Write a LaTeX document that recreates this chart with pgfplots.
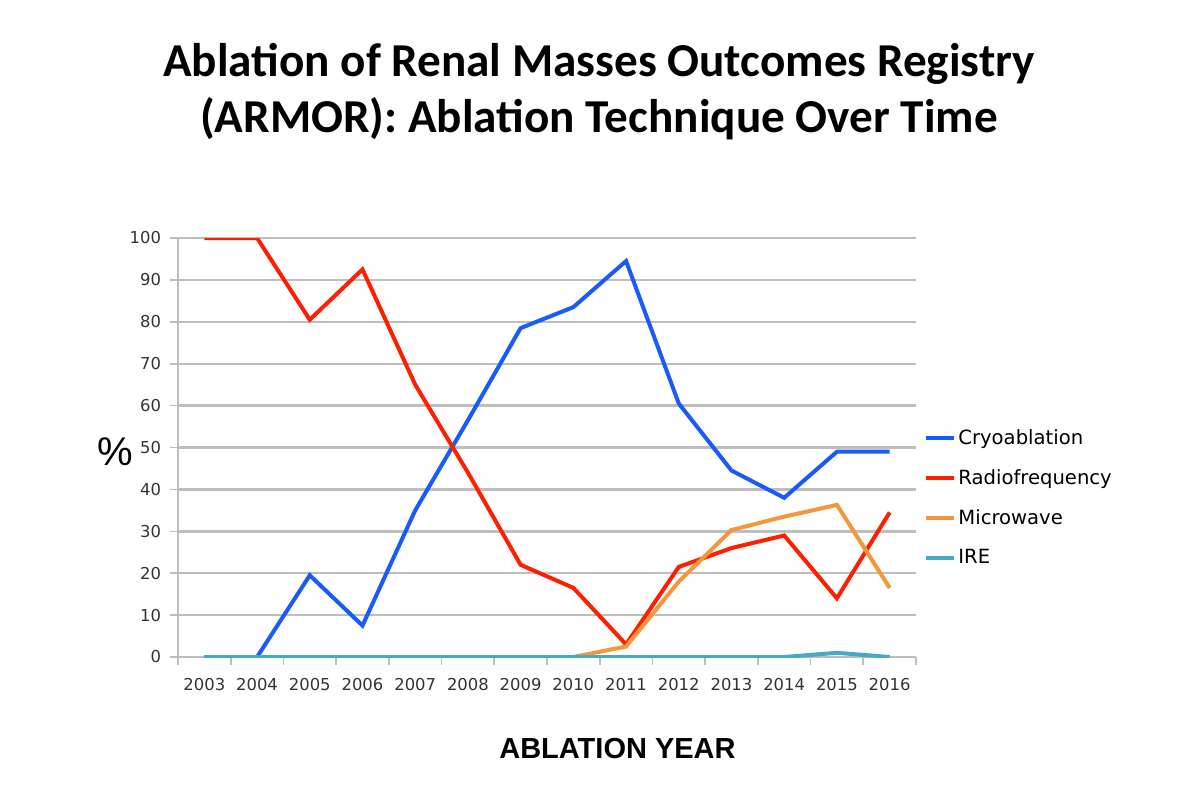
\documentclass[border=0pt]{standalone}
\usepackage{pgfplots}
\pgfplotsset{compat=1.18}
\usepackage{fontspec}
\setmainfont{Carlito}
\newfontfamily\dejavu{DejaVu Sans}
\newfontfamily\arial{Liberation Sans}

\definecolor{cryo}{RGB}{25,90,250}
\definecolor{radio}{RGB}{255,30,0}
\definecolor{micro}{RGB}{245,150,60}
\definecolor{ire}{RGB}{70,170,195}
\definecolor{gridgray}{RGB}{190,190,190}

\begin{document}
\begin{tikzpicture}
\useasboundingbox (0,0) rectangle (600pt,400pt);

% title
\node[anchor=base, font=\bfseries\fontsize{23.6}{27}\selectfont] at (299.5pt,361.5pt)
  {Ablation of Renal Masses Outcomes Registry};
\node[anchor=base, font=\bfseries\fontsize{23.6}{27}\selectfont] at (299.5pt,334pt)
  {(ARMOR): Ablation Technique Over Time};

\begin{axis}[
  at={(89pt,71.5pt)}, anchor=south west,
  scale only axis, width=369pt, height=209.5pt,
  xmin=2002.5, xmax=2016.5, ymin=0, ymax=100,
  axis lines*=left,
  axis line style={draw=gridgray, line width=1pt},
  xtick={2003,...,2016},
  minor xtick={2002.5,2003.5,2004.5,2005.5,2006.5,2007.5,2008.5,2009.5,2010.5,2011.5,2012.5,2013.5,2014.5,2015.5,2016.5},
  ytick={0,10,...,100},
  tick align=outside,
  major x tick style={draw=none},
  minor x tick style={draw=gridgray, line width=0.8pt},
  minor tick length=4pt,
  major y tick style={draw=gridgray, line width=0.8pt},
  major tick length=4pt,
  ymajorgrids, xmajorgrids=false,
  major grid style={draw=gridgray, line width=1.2pt},
  /pgf/number format/assume math mode=true,
  /pgf/number format/1000 sep={},
  tick label style={font=\dejavu\fontsize{8.2}{9.6}\selectfont, text=black!80},
  xticklabel style={yshift=-3pt},
  yticklabel style={xshift=-1pt},
  legend style={at={(1.0027,0.563)}, anchor=north west, draw=none, fill=none,
    font=\dejavu\fontsize{9.8}{11}\selectfont, row sep=7pt,
    nodes={inner xsep=1pt}},
  legend cell align=left,
  legend image code/.code={\draw[#1] (0pt,0pt) -- (14pt,0pt);},
  every axis plot/.append style={line width=2pt, mark=none},
]
\addplot[cryo] coordinates {
(2003,0) (2004,0) (2005,19.5) (2006,7.5) (2007,35) (2008,56.5) (2009,78.5)
(2010,83.5) (2011,94.5) (2012,60.5) (2013,44.5) (2014,38) (2015,49) (2016,49)};
\addlegendentry{Cryoablation}
\addplot[radio] coordinates {
(2003,100) (2004,100) (2005,80.5) (2006,92.5) (2007,65) (2008,44) (2009,22)
(2010,16.5) (2011,3) (2012,21.5) (2013,26) (2014,29) (2015,14) (2016,34.5)};
\addlegendentry{Radiofrequency}
\addplot[micro] coordinates {
(2010,0) (2011,2.5) (2012,18) (2013,30.3) (2014,33.5) (2015,36.3) (2016,16.5)};
\addlegendentry{Microwave}
\addplot[ire] coordinates {
(2003,0) (2004,0) (2005,0) (2006,0) (2007,0) (2008,0) (2009,0)
(2010,0) (2011,0) (2012,0) (2013,0) (2014,0) (2015,1) (2016,0)};
\addlegendentry{IRE}
\end{axis}

\node[font=\arial\fontsize{20}{22}\selectfont] at (57.5pt,174pt) {\%};
\node[anchor=base, font=\arial\bfseries\fontsize{14.5}{16}\selectfont] at (308.75pt,21pt)
  {ABLATION YEAR};
\end{tikzpicture}
\end{document}
